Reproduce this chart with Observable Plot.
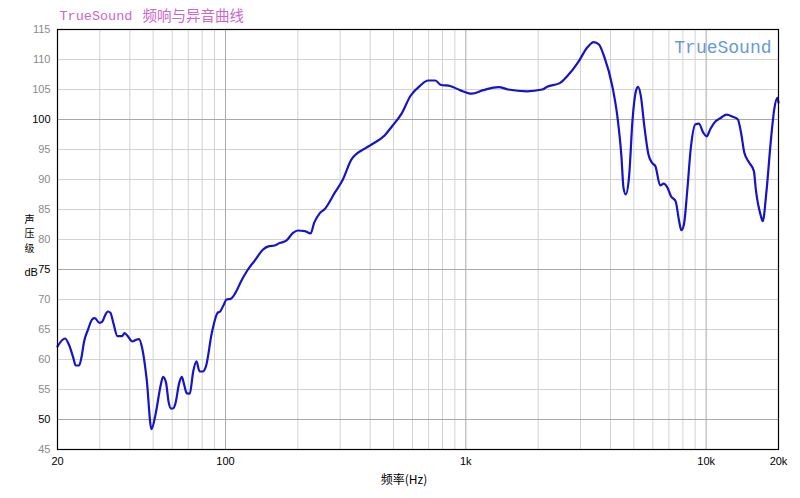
<!DOCTYPE html>
<html><head><meta charset="utf-8">
<script src="https://cdn.jsdelivr.net/npm/d3@7"></script>
<script src="https://cdn.jsdelivr.net/npm/@observablehq/plot@0.6"></script>
<style>body{margin:0;background:#fff;} svg{display:block;}</style>
</head><body><div id="chart"></div>
<script>
const freqs = [20,21.5,22.3,23.3,23.8,24.6,25.2,25.8,26.8,27.9,28.6,29.9,30.7,31.5,32.4,33.2,34.2,35.5,37.2,38,39,41,42.5,43.7,45,47,49.2,51.3,53.8,55,56.6,58,59.5,60.8,62,64.2,65.8,67.3,68.9,71,73.4,75.7,78,80.4,83,87.7,92.8,95,98,101,105,110,116,124,133,143,152,160,168,179,191,200,214,226,234,247,259,285,308,334,386,400,458,496,537,590,648,697,747,785,866,945,1058,1183,1367,1502,1796,2078,2180,2470,2640,2950,3200,3410,3580,3760,4070,4270,4440,4530,4630,4780,4940,5100,5210,5350,5530,5750,5950,6150,6440,6650,6910,7140,7460,7700,7880,8080,8350,8620,9030,9330,9730,10050,10380,10800,11530,12160,12900,13550,13970,14420,15120,15800,16100,16900,17200,17800,18550,19200,19800,20000];
const spl = [62.2,63.5,62.5,60.2,59.0,59.0,60.5,63.0,65.0,66.7,66.9,66.1,66.3,67.3,68.0,67.8,66.0,63.9,63.9,64.4,64.0,63.0,63.3,63.4,61.9,56.7,48.4,51.1,55.8,57.1,56.1,52.9,51.8,51.9,52.8,56.1,57.1,55.8,54.4,54.3,58.0,59.7,58.0,58.0,58.9,64.4,67.8,68.0,69.0,70.0,70.1,71.1,73.0,75.0,76.6,78.3,78.9,79.0,79.4,79.8,81.1,81.5,81.4,81.0,82.8,84.4,85.1,87.8,90.0,93.3,95.3,95.7,97.3,99.0,100.8,104.0,105.7,106.5,106.5,105.8,105.55,104.9,104.3,104.9,105.4,105.0,104.7,105.0,105.45,106.1,107.2,109.7,112.0,112.9,112.5,110.55,105.55,100.55,93.9,88.6,87.5,90.55,100.0,104.7,105.45,103.9,98.9,94.2,92.8,92.2,89.0,89.3,88.6,87.2,86.4,83.3,81.55,82.5,88.3,95.0,99.2,99.3,97.8,97.2,98.3,99.45,100.3,100.8,100.45,100.0,97.8,94.45,92.8,91.4,88.3,83.9,83.05,87.8,96.1,101.7,103.6,102.8];
const xMajorGrid = [100, 1000, 10000];
const xMinorGrid = [30,40,50,60,70,80,90,200,300,400,500,600,700,800,900,2000,3000,4000,5000,6000,7000,8000,9000];
const xTickValues = [20, 100, 1000, 10000, 20000];
const xTickLabels = ["20", "100", "1k", "10k", "20k"];
const yTicks = [45,50,55,60,65,70,75,80,85,90,95,100,105,110,115];
const yMajor = [50, 75, 100];
const titleEn = "TrueSound";
const titleZh = "频响与异音曲线";
const watermark = "TrueSound";
const yLabelChars = ["声", "压", "级"];
const yUnit = "dB";
const xLabel = "频率(Hz)";

const data = freqs.map((f, i) => ({f, db: spl[i]}));
const yMinorGrid = yTicks.filter(v => !yMajor.includes(v) && v !== 45 && v !== 115);
const tickFont = "Liberation Sans, Arial, sans-serif";
const cjk = "Noto Sans CJK SC, sans-serif";

const chart = Plot.plot({
  width: 800, height: 498,
  marginLeft: 57, marginRight: 22, marginTop: 29, marginBottom: 49,
  x: {type: "log", domain: [20, 20000], axis: null},
  y: {domain: [45, 115], axis: null},
  style: {background: "#fff"},
  marks: [
    Plot.ruleX(xMinorGrid, {stroke: "#d3d3d3", strokeWidth: 1}),
    Plot.ruleY(yMinorGrid, {stroke: "#d3d3d3", strokeWidth: 1}),
    Plot.ruleX(xMajorGrid, {stroke: "#a9a9a9", strokeWidth: 1}),
    Plot.ruleY(yMajor, {stroke: "#a9a9a9", strokeWidth: 1}),
    Plot.line(data, {x: "f", y: "db", stroke: "#1414c8", strokeWidth: 2.2, curve: "monotone-x"}),
    Plot.frame({stroke: "#000", strokeWidth: 1.2}),
    Plot.text(yTicks.filter(v => !yMajor.includes(v)), {y: d => d, text: d => String(d), frameAnchor: "left", dx: -7, textAnchor: "end", fill: "#8a8a8a", fontSize: 11, fontFamily: tickFont}),
    Plot.text(yMajor, {y: d => d, text: d => String(d), frameAnchor: "left", dx: -7, textAnchor: "end", fill: "#000", fontSize: 11, fontFamily: tickFont}),
    Plot.text(xTickValues, {x: d => d, text: (d, i) => xTickLabels[i], frameAnchor: "bottom", dy: 15, fill: "#000", fontSize: 11, fontFamily: tickFont}),
    Plot.text([xLabel], {text: d => d, frameAnchor: "bottom", dx: -14, dy: 34, fill: "#000", fontSize: 12, fontFamily: cjk}),
    ...yLabelChars.map((c, i) => Plot.text([c], {text: d => d, frameAnchor: "left", dx: -33, dy: -20 + i * 14.5, fill: "#000", fontSize: 10, fontFamily: cjk})),
    Plot.text([yUnit], {text: d => d, frameAnchor: "left", dx: -33, dy: 33, fill: "#000", fontSize: 11, fontFamily: tickFont}),
    Plot.text([titleEn], {text: d => d, frameAnchor: "top-left", dx: 2, dy: -19, textAnchor: "start", fill: "#cc66cc", fontSize: 13.5, fontFamily: "Liberation Mono, monospace"}),
    Plot.text([titleZh], {text: d => d, frameAnchor: "top-left", dx: 85, dy: -19, textAnchor: "start", fill: "#cc66cc", fontSize: 14.5, fontFamily: cjk}),
    Plot.text([watermark], {text: d => d, frameAnchor: "top-right", dx: -7, dy: 11, textAnchor: "end", fill: "#6699dd", fontSize: 18, fontFamily: "Liberation Mono, monospace"})
  ]
});
document.getElementById("chart").appendChild(chart);
</script>
</body></html>
